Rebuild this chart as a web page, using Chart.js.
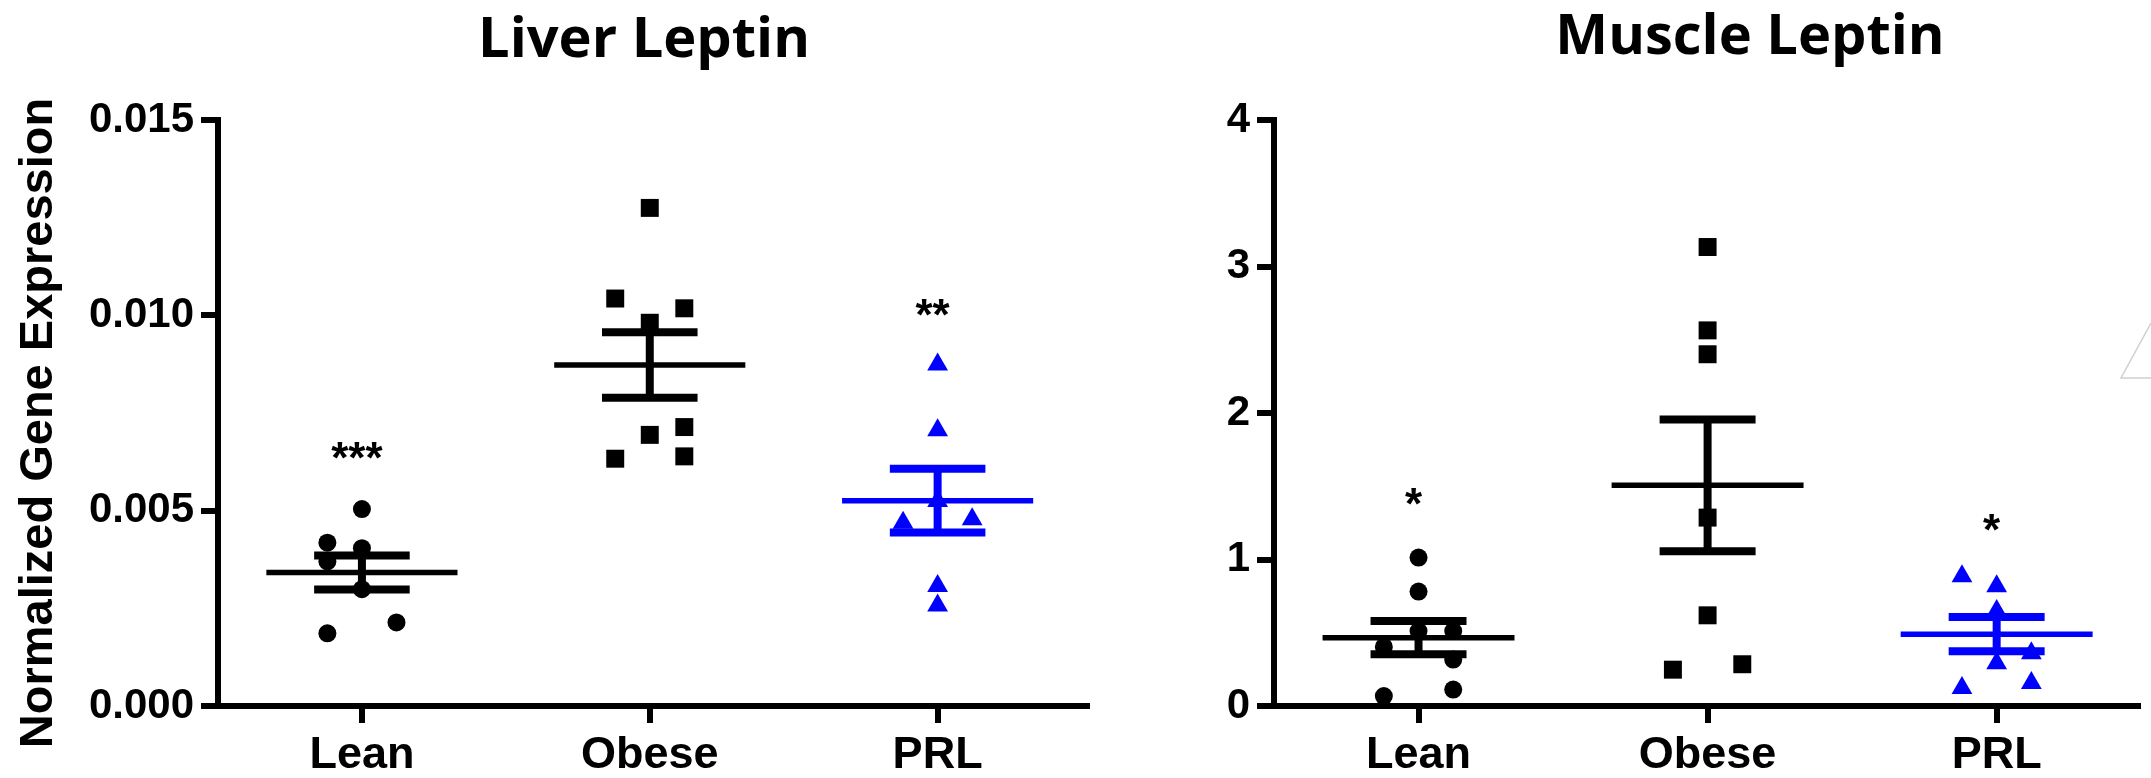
<!DOCTYPE html>
<html>
<head>
<meta charset="utf-8">
<script src="https://cdn.jsdelivr.net/npm/chart.js@4.4.1/dist/chart.umd.min.js"></script>
<style>
html,body{margin:0;padding:0;background:#fff;width:2151px;height:778px;overflow:hidden}
#c1{position:absolute;left:0;top:0}
#c2{position:absolute;left:1100px;top:0}
</style>
</head>
<body>
<canvas id="c1" width="1100" height="778"></canvas>
<canvas id="c2" width="1051" height="778"></canvas>
<script>
// ---------------- DATA ----------------
const groups = ['Lean', 'Obese', 'PRL'];

// Liver leptin (normalized gene expression)
const liverLean      = [0.00504, 0.00418, 0.00404, 0.00370, 0.00299, 0.00214, 0.00186];
const liverLeanCol   = [0, -1, 0, -1, 0, 1, -1];
const liverObese     = [0.01275, 0.01043, 0.01018, 0.00981, 0.00714, 0.00694, 0.00633, 0.00639];
const liverObeseCol  = [0, -1, 1, 0, 1, 0, -1, 1];
const liverPRL       = [0.00874, 0.00706, 0.00525, 0.00478, 0.00469, 0.00307, 0.00257];
const liverPRLCol    = [0, 0, 0, 1, -1, 0, 0];
const liverMean      = [0.003415, 0.00873, 0.005255];
const liverSEM       = [0.000435, 0.00084, 0.000815];
const liverStars     = ['***', '', '**'];
const liverStarY     = [0.00653, null, 0.01021];
const liverTicks     = [0, 0.005, 0.010, 0.015];

// Muscle leptin
const muscleLean     = [1.013, 0.781, 0.512, 0.512, 0.403, 0.317, 0.112, 0.068];
const muscleLeanCol  = [0, 0, 0, 1, -1, 1, 1, -1];
const muscleObese    = [3.133, 2.564, 2.401, 1.286, 0.619, 0.248, 0.285];
const muscleObeseCol = [0, 0, 0, 0, 0, -1, 1];
const musclePRL      = [0.885, 0.817, 0.648, 0.360, 0.292, 0.123, 0.157];
const musclePRLCol   = [-1, 0, 0, 1, 0, -1, 1];
const muscleMean     = [0.4665, 1.506, 0.49];
const muscleSEM      = [0.1135, 0.45, 0.117];
const muscleStars    = ['*', '', '*'];
const muscleStarY    = [1.431, null, 1.25];
const muscleTicks    = [0, 1, 2, 3, 4];

// ---------------- STYLE ----------------
const BLACK = '#000000', BLUE = '#0000ff';
const groupColors = [BLACK, BLACK, BLUE];
const groupShapes = ['circle', 'rect', 'triangle'];
const groupRadius = [9, 12.7, 12];
const COL_STEP = 0.12;
const MEAN_HALF = 0.332, CAP_HALF = 0.166;
const MEAN_W = 5.5, CAP_W = 8;
const SANS = '"Liberation Sans", Arial, sans-serif';
const TITLE_FONT = '"Open Sans", sans-serif';

function pointSet(vals, cols, gi) {
  return {
    type: 'scatter',
    data: vals.map((v, k) => ({x: gi + cols[k] * COL_STEP, y: v})),
    pointStyle: groupShapes[gi],
    pointRadius: groupRadius[gi],
    pointHoverRadius: groupRadius[gi],
    pointBackgroundColor: groupColors[gi],
    pointBorderColor: groupColors[gi],
    pointBorderWidth: 0,
    clip: false
  };
}

function errorSets(means, sems) {
  const out = [];
  means.forEach((m, i) => {
    const s = sems[i];
    const base = {type: 'line', borderColor: groupColors[i], pointRadius: 0, pointHoverRadius: 0,
      fill: false, clip: false, borderCapStyle: 'butt', tension: 0};
    out.push({...base, borderWidth: MEAN_W, data: [{x: i - MEAN_HALF, y: m}, {x: i + MEAN_HALF, y: m}]});
    out.push({...base, borderWidth: CAP_W, data: [{x: i - CAP_HALF, y: m + s}, {x: i + CAP_HALF, y: m + s}]});
    out.push({...base, borderWidth: CAP_W, data: [{x: i - CAP_HALF, y: m - s}, {x: i + CAP_HALF, y: m - s}]});
    out.push({...base, borderWidth: CAP_W, data: [{x: i, y: m - s}, {x: i, y: m + s}]});
  });
  return out;
}

const starsPlugin = {
  id: 'stars',
  afterDatasetsDraw(chart, args, opts) {
    const {ctx} = chart; const xs = chart.scales.x, ys = chart.scales.y;
    ctx.save();
    ctx.font = 'bold 44px ' + SANS; ctx.fillStyle = BLACK;
    ctx.textAlign = 'center'; ctx.textBaseline = 'alphabetic';
    opts.labels.forEach((t, i) => {
      if (!t) return;
      const m = ctx.measureText(t);
      const px = xs.getPixelForValue(i) - 5;
      const py = ys.getPixelForValue(opts.values[i]);
      ctx.fillText(t, px, py + (m.actualBoundingBoxAscent - m.actualBoundingBoxDescent) / 2);
    });
    ctx.restore();
  }
};

const textPlugin = {
  id: 'panelText',
  afterDraw(chart, args, opts) {
    const {ctx} = chart;
    (opts.items || []).forEach(it => {
      ctx.save();
      ctx.font = it.font; ctx.fillStyle = BLACK;
      ctx.textAlign = 'center'; ctx.textBaseline = it.baseline || 'alphabetic';
      ctx.translate(it.x, it.y);
      if (it.rot) ctx.rotate(it.rot);
      ctx.fillText(it.text, 0, 0);
      ctx.restore();
    });
    if (opts.ghost) {
      const w = chart.width;
      ctx.save();
      ctx.strokeStyle = '#cfcfcf'; ctx.lineWidth = 1.5;
      ctx.beginPath();
      ctx.moveTo(w, 378); ctx.lineTo(w - 30, 378); ctx.lineTo(w, 323);
      ctx.stroke();
      ctx.restore();
    }
  }
};

function makeChart(id, cfg) {
  const axisCommon = {
    grid: {display: true, drawOnChartArea: false, drawTicks: true, tickLength: 17, color: BLACK, lineWidth: 6},
    border: {display: true, color: BLACK, width: 6}
  };
  return new Chart(document.getElementById(id), {
    type: 'scatter',
    data: {datasets: [
      ...errorSets(cfg.mean, cfg.sem),
      pointSet(cfg.lean, cfg.leanCol, 0),
      pointSet(cfg.obese, cfg.obeseCol, 1),
      pointSet(cfg.prl, cfg.prlCol, 2)
    ]},
    options: {
      responsive: false, animation: false, events: [],
      layout: {padding: {top: 120, left: 0, right: 0, bottom: 0}},
      plugins: {
        legend: {display: false}, tooltip: {enabled: false},
        stars: {labels: cfg.stars, values: cfg.starY},
        panelText: {items: cfg.texts, ghost: cfg.ghost}
      },
      scales: {
        x: {
          type: 'linear', min: -0.5, max: cfg.xMax,
          afterBuildTicks: s => { s.ticks = groups.map((g, i) => ({value: i})); },
          afterFit: s => { s.height = 72; },
          ticks: {callback: v => groups[v], autoSkip: false, maxRotation: 0, padding: 6,
            color: BLACK, font: {family: SANS, size: 45, weight: 'bold'}},
          ...axisCommon
        },
        y: {
          type: 'linear', min: cfg.yTicks[0], max: cfg.yTicks[cfg.yTicks.length - 1],
          afterBuildTicks: s => { s.ticks = cfg.yTicks.map(v => ({value: v})); },
          afterFit: s => { s.width = cfg.yWidth; },
          ticks: {callback: cfg.fmt, padding: 7, color: BLACK, font: {family: SANS, size: 42, weight: 'bold'}},
          ...axisCommon
        }
      }
    },
    plugins: [starsPlugin, textPlugin]
  });
}

makeChart('c1', {
  mean: liverMean, sem: liverSEM,
  lean: liverLean, leanCol: liverLeanCol, obese: liverObese, obeseCol: liverObeseCol, prl: liverPRL, prlCol: liverPRLCol,
  stars: liverStars, starY: liverStarY, yTicks: liverTicks, fmt: v => v.toFixed(3),
  xMax: 2.52, yWidth: 218, ghost: false,
  texts: [
    {text: 'Liver Leptin', x: 644, y: 57, font: 'bold 56px ' + TITLE_FONT},
    {text: 'Normalized Gene Expression', x: 39, y: 423, rot: -Math.PI / 2, baseline: 'middle', font: 'bold 47px ' + SANS}
  ]
});

makeChart('c2', {
  mean: muscleMean, sem: muscleSEM,
  lean: muscleLean, leanCol: muscleLeanCol, obese: muscleObese, obeseCol: muscleObeseCol, prl: musclePRL, prlCol: musclePRLCol,
  stars: muscleStars, starY: muscleStarY, yTicks: muscleTicks, fmt: v => String(v),
  xMax: 2.49, yWidth: 174, ghost: true,
  texts: [
    {text: 'Muscle Leptin', x: 650, y: 54, font: 'bold 56px ' + TITLE_FONT}
  ]
});
</script>
</body>
</html>
